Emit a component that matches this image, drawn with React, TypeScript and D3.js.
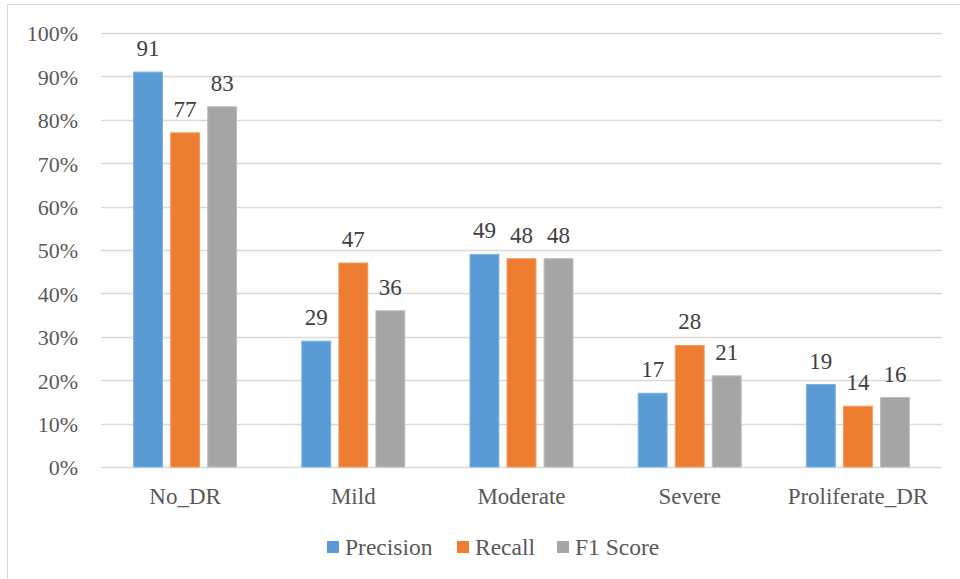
import React from "react";
import * as d3 from "d3";

const categories = ["No_DR", "Mild", "Moderate", "Severe", "Proliferate_DR"];
const seriesNames = ["Precision", "Recall", "F1 Score"];
const precision = [91, 29, 49, 17, 19];
const recall = [77, 47, 48, 28, 14];
const f1Score = [83, 36, 48, 21, 16];
const yTicks = [0, 10, 20, 30, 40, 50, 60, 70, 80, 90, 100];

const colors = ["#5B9BD5", "#ED7D31", "#A5A5A5"];
const strokes = ["#7FB2E0", "#F29A5C", "#BDBDBD"];

const serif = "Liberation Serif";

const App = () => {
  const width = 960;
  const height = 579;
  const margin = { top: 33, right: 18, bottom: 112, left: 101 };

  const values = [precision, recall, f1Score];

  const x = d3
    .scaleBand()
    .domain(categories)
    .range([margin.left, width - margin.right]);
  const inner = d3
    .scaleBand()
    .domain(seriesNames)
    .range([0, 103])
    .paddingInner(0.22);
  const y = d3
    .scaleLinear()
    .domain([0, 100])
    .range([height - margin.bottom, margin.top]);

  const groupOffset = (x.bandwidth() - 103) / 2;

  const legendX = [327, 457, 557];

  return (
    <svg
      width={width}
      height={height}
      fontFamily={serif}
      style={{ position: "absolute", left: 0, top: 0 }}
    >
      <rect width={width} height={height} fill="#fff" />
      {/* chart frame */}
      <line x1={7} x2={width} y1={4.5} y2={4.5} stroke="#D9D9D9" />
      <line x1={7.5} x2={7.5} y1={4} y2={height} stroke="#D9D9D9" />

      {yTicks.map((t) => (
        <g key={t}>
          <line
            x1={margin.left}
            x2={width - margin.right}
            y1={Math.round(y(t)) + 0.5}
            y2={Math.round(y(t)) + 0.5}
            stroke="#D9D9D9"
            strokeWidth={1.3}
          />
          <text
            x={78}
            y={y(t)}
            dy="0.38em"
            textAnchor="end"
            fontSize={22}
            fontFamily={serif}
            style={{ fontFamily: serif }}
            fill="#595959"
          >
            {t}%
          </text>
        </g>
      ))}

      {categories.map((c, i) => (
        <g key={c}>
          {seriesNames.map((s, j) => {
            const bx = (x(c) as number) + groupOffset + (inner(s) as number);
            const v = values[j][i];
            return (
              <g key={s}>
                <rect
                  x={bx}
                  y={y(v)}
                  width={inner.bandwidth()}
                  height={y(0) - y(v)}
                  fill={colors[j]}
                  stroke={strokes[j]}
                  strokeWidth={1}
                />
                <text
                  x={bx + inner.bandwidth() / 2}
                  y={y(v) - 16}
                  textAnchor="middle"
                  fontSize={23}
                  fontFamily={serif}
                  style={{ fontFamily: serif }}
                  fill="#404040"
                >
                  {v}
                </text>
              </g>
            );
          })}
          <text
            x={(x(c) as number) + x.bandwidth() / 2}
            y={504}
            textAnchor="middle"
            fontSize={23}
            fontFamily={serif}
            style={{ fontFamily: serif }}
            fill="#595959"
          >
            {c}
          </text>
        </g>
      ))}

      {seriesNames.map((s, j) => (
        <g key={s}>
          <rect x={legendX[j]} y={541} width={12} height={12} fill={colors[j]} />
          <text
            x={legendX[j] + 18}
            y={555}
            fontSize={23.5}
            fontFamily={serif}
            style={{ fontFamily: serif }}
            fill="#595959"
          >
            {s}
          </text>
        </g>
      ))}
    </svg>
  );
};

export default App;
